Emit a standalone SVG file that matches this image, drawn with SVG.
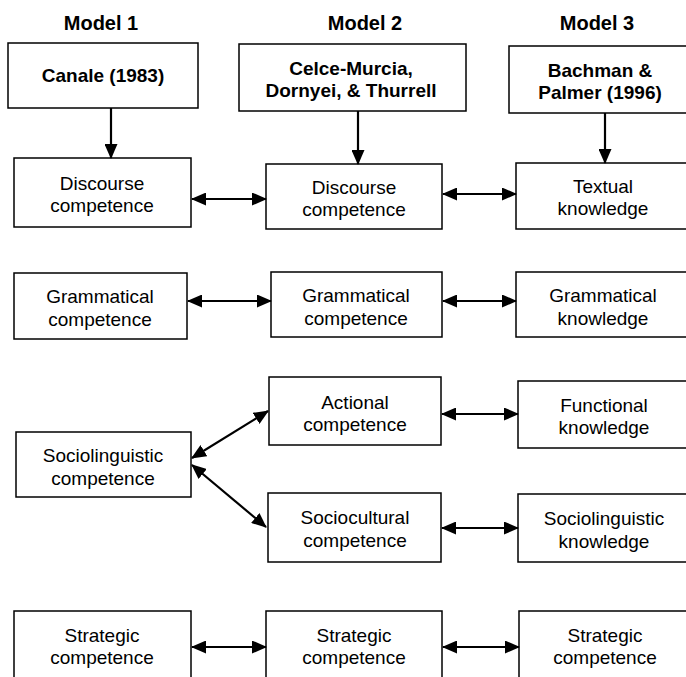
<svg xmlns="http://www.w3.org/2000/svg" width="686" height="677" viewBox="0 0 686 677">
<style>
  .box { fill: #ffffff; stroke: #000000; stroke-width: 1.5; }
  .t { font-family: "Liberation Sans", Arial, sans-serif; font-size: 19px; fill: #000000; text-anchor: middle; }
  .b { font-weight: bold; }
  .title { font-family: "Liberation Sans", Arial, sans-serif; font-size: 20px; font-weight: bold; fill: #000000; text-anchor: middle; }
  .conn { stroke: #000000; stroke-width: 2.2; fill: none; }
</style>
<defs>
  <marker id="ah" viewBox="0 0 15 13" refX="14" refY="6.5" markerWidth="15" markerHeight="13" markerUnits="userSpaceOnUse" orient="auto-start-reverse">
    <path d="M0,0 L15,6.5 L0,13 z" fill="#000000"/>
  </marker>
</defs>
<rect width="686" height="677" fill="#ffffff"/>

<g id="titles">
  <text class="title" x="101" y="30">Model 1</text>
  <text class="title" x="365" y="30">Model 2</text>
  <text class="title" x="597" y="30">Model 3</text>
</g>

<g id="canale">
  <rect class="box" x="8" y="43" width="190" height="65"/>
  <text class="t b" x="103" y="82">Canale (1983)</text>
</g>
<g id="celce">
  <rect class="box" x="239" y="44" width="227" height="67"/>
  <text class="t b" x="351" y="75">Celce-Murcia,</text>
  <text class="t b" x="351" y="97">Dornyei, &amp; Thurrell</text>
</g>
<g id="bachman">
  <rect class="box" x="509" y="46" width="182" height="67"/>
  <text class="t b" x="600" y="77">Bachman &amp;</text>
  <text class="t b" x="600" y="99">Palmer (1996)</text>
</g>

<g id="discourse1">
  <rect class="box" x="14" y="158" width="177" height="69"/>
  <text class="t" x="102" y="190">Discourse</text>
  <text class="t" x="102" y="212">competence</text>
</g>
<g id="discourse2">
  <rect class="box" x="266" y="164" width="176" height="65"/>
  <text class="t" x="354" y="194">Discourse</text>
  <text class="t" x="354" y="216">competence</text>
</g>
<g id="textual">
  <rect class="box" x="516" y="163" width="174" height="66"/>
  <text class="t" x="603" y="193">Textual</text>
  <text class="t" x="603" y="215">knowledge</text>
</g>

<g id="grammatical1">
  <rect class="box" x="14" y="273" width="173" height="66"/>
  <text class="t" x="100" y="303">Grammatical</text>
  <text class="t" x="100" y="326">competence</text>
</g>
<g id="grammatical2">
  <rect class="box" x="271" y="272" width="171" height="65"/>
  <text class="t" x="356" y="302">Grammatical</text>
  <text class="t" x="356" y="325">competence</text>
</g>
<g id="grammatical3">
  <rect class="box" x="516" y="272" width="174" height="65"/>
  <text class="t" x="603" y="302">Grammatical</text>
  <text class="t" x="603" y="325">knowledge</text>
</g>

<g id="actional">
  <rect class="box" x="269" y="377" width="172" height="68"/>
  <text class="t" x="355" y="409">Actional</text>
  <text class="t" x="355" y="431">competence</text>
</g>
<g id="functional">
  <rect class="box" x="518" y="381" width="172" height="67"/>
  <text class="t" x="604" y="412">Functional</text>
  <text class="t" x="604" y="434">knowledge</text>
</g>
<g id="sociolinguistic1">
  <rect class="box" x="16" y="432" width="175" height="65"/>
  <text class="t" x="103" y="462">Sociolinguistic</text>
  <text class="t" x="103" y="485">competence</text>
</g>
<g id="sociocultural">
  <rect class="box" x="268" y="493" width="173" height="69"/>
  <text class="t" x="355" y="524">Sociocultural</text>
  <text class="t" x="355" y="547">competence</text>
</g>
<g id="sociolinguistic3">
  <rect class="box" x="518" y="494" width="172" height="68"/>
  <text class="t" x="604" y="525">Sociolinguistic</text>
  <text class="t" x="604" y="548">knowledge</text>
</g>

<g id="strategic1">
  <rect class="box" x="14" y="611" width="177" height="80"/>
  <text class="t" x="102" y="642">Strategic</text>
  <text class="t" x="102" y="664">competence</text>
</g>
<g id="strategic2">
  <rect class="box" x="266" y="611" width="176" height="80"/>
  <text class="t" x="354" y="642">Strategic</text>
  <text class="t" x="354" y="664">competence</text>
</g>
<g id="strategic3">
  <rect class="box" x="519" y="611" width="172" height="80"/>
  <text class="t" x="605" y="642">Strategic</text>
  <text class="t" x="605" y="664">competence</text>
</g>

<g id="connectors">
  <line class="conn" x1="111" y1="108" x2="111" y2="158" marker-end="url(#ah)"/>
  <line class="conn" x1="358" y1="111" x2="358" y2="164" marker-end="url(#ah)"/>
  <line class="conn" x1="605" y1="113" x2="605" y2="163" marker-end="url(#ah)"/>
  <line class="conn" x1="192" y1="199" x2="266" y2="199" marker-start="url(#ah)" marker-end="url(#ah)"/>
  <line class="conn" x1="443" y1="194" x2="516" y2="194" marker-start="url(#ah)" marker-end="url(#ah)"/>
  <line class="conn" x1="188" y1="301" x2="271" y2="301" marker-start="url(#ah)" marker-end="url(#ah)"/>
  <line class="conn" x1="443" y1="301" x2="516" y2="301" marker-start="url(#ah)" marker-end="url(#ah)"/>
  <line class="conn" x1="442" y1="414" x2="518" y2="414" marker-start="url(#ah)" marker-end="url(#ah)"/>
  <line class="conn" x1="192" y1="458" x2="268" y2="411" marker-start="url(#ah)" marker-end="url(#ah)"/>
  <line class="conn" x1="192" y1="465" x2="266" y2="527" marker-start="url(#ah)" marker-end="url(#ah)"/>
  <line class="conn" x1="442" y1="528" x2="518" y2="528" marker-start="url(#ah)" marker-end="url(#ah)"/>
  <line class="conn" x1="192" y1="647" x2="266" y2="647" marker-start="url(#ah)" marker-end="url(#ah)"/>
  <line class="conn" x1="443" y1="647" x2="519" y2="647" marker-start="url(#ah)" marker-end="url(#ah)"/>
</g>
</svg>
